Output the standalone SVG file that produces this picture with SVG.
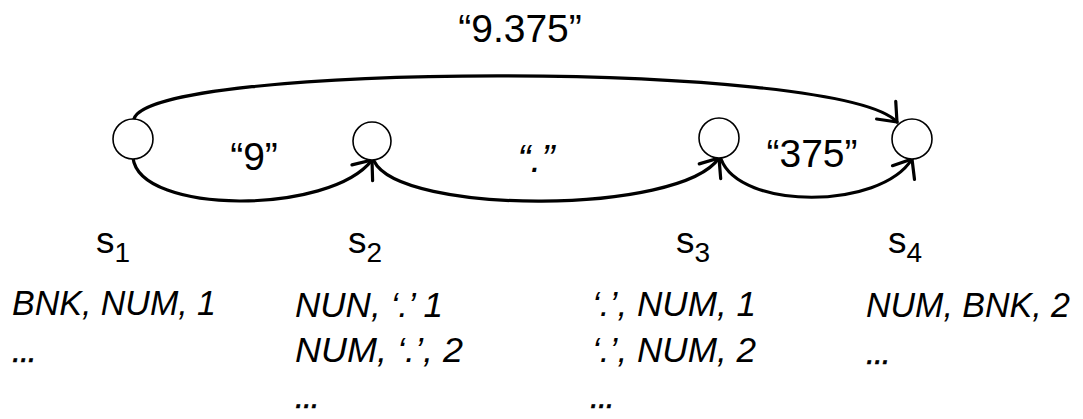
<svg xmlns="http://www.w3.org/2000/svg" width="1083" height="419" viewBox="0 0 1083 419">
<style>
.node{fill:#fff;stroke:#000;stroke-width:1.6}
.edge{fill:none;stroke:#000;stroke-width:3.2;stroke-linecap:round}
.lbl{font-family:"Liberation Sans",Arial,sans-serif;font-size:39px;fill:#000}
.it{font-family:"Liberation Sans",Arial,sans-serif;font-style:italic;font-size:35px;fill:#000}
.dots{font-family:"Liberation Sans",Arial,sans-serif;font-style:italic;font-size:32px;letter-spacing:-1px;fill:#000;stroke:#000;stroke-width:0.6}
.st{font-family:"Liberation Sans",Arial,sans-serif;font-size:37px;fill:#000}
.sub{font-size:28px}
</style>
<defs>
<marker id="arr" viewBox="-20 -16 24 32" markerWidth="24" markerHeight="32" refX="0" refY="0" orient="auto" markerUnits="userSpaceOnUse">
<path d="M-16,-13 L0,0 L-16,13" fill="none" stroke="#000" stroke-width="3.2" stroke-linecap="round" stroke-linejoin="round"/>
</marker>
</defs>
<g id="connectors">
<path class="edge" d="M134,119 C150,62 840,60 897,122" marker-end="url(#arr)"/>
<path class="edge" d="M133,158 C140,215 330,215 372,160" marker-end="url(#arr)"/>
<path class="edge" d="M374,161 C400,215 680,215 719,158" marker-end="url(#arr)"/>
<path class="edge" d="M721,159 C740,210 880,210 912,159" marker-end="url(#arr)"/>
</g>
<g id="edge-labels">
<text class="lbl" x="520" y="42" text-anchor="middle">“9.375”</text>
<text class="lbl" x="254" y="170" text-anchor="middle">“9”</text>
<text class="lbl" x="536" y="172" text-anchor="middle" font-style="italic">“.”</text>
<text class="lbl" x="812" y="167" text-anchor="middle" font-size="40">“375”</text>
</g>
<g id="s1">
<circle class="node" cx="133" cy="139" r="20"/>
<text class="st" x="96" y="253">s<tspan class="sub" dy="9">1</tspan></text>
<text class="it" x="12" y="315" textLength="204" lengthAdjust="spacingAndGlyphs">BNK, NUM, 1</text>
<text class="dots" x="12" y="362">...</text>
</g>
<g id="s2">
<circle class="node" cx="372" cy="141" r="19"/>
<text class="st" x="348" y="253">s<tspan class="sub" dy="9">2</tspan></text>
<text class="it" x="295" y="317" textLength="148" lengthAdjust="spacingAndGlyphs">NUN, ‘.’ 1</text>
<text class="it" x="295" y="362" textLength="168" lengthAdjust="spacingAndGlyphs">NUM, ‘.’, 2</text>
<text class="dots" x="295" y="408">...</text>
</g>
<g id="s3">
<circle class="node" cx="719" cy="138" r="20"/>
<text class="st" x="676" y="253">s<tspan class="sub" dy="9">3</tspan></text>
<text class="it" x="592" y="316" textLength="164" lengthAdjust="spacingAndGlyphs">‘.’, NUM, 1</text>
<text class="it" x="592" y="362" textLength="164" lengthAdjust="spacingAndGlyphs">‘.’, NUM, 2</text>
<text class="dots" x="590" y="408">...</text>
</g>
<g id="s4">
<circle class="node" cx="912" cy="139" r="20"/>
<text class="st" x="888" y="253">s<tspan class="sub" dy="9">4</tspan></text>
<text class="it" x="866" y="317" textLength="204" lengthAdjust="spacingAndGlyphs">NUM, BNK, 2</text>
<text class="dots" x="866" y="364">...</text>
</g>
</svg>
